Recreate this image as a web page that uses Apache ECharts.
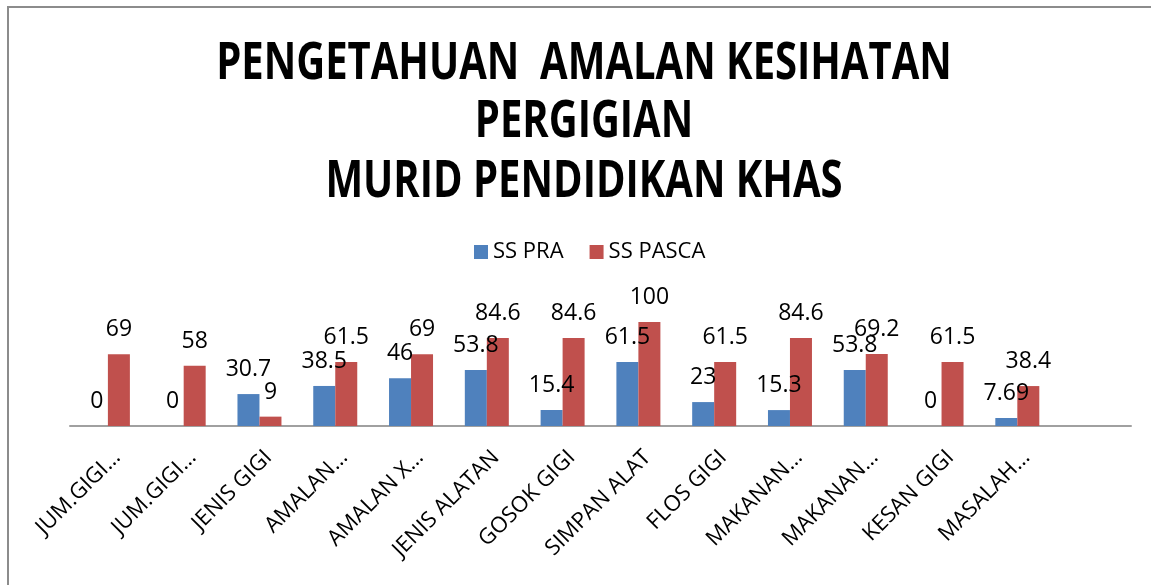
<!DOCTYPE html>
<html>
<head>
<meta charset="utf-8">
<script src="https://cdn.jsdelivr.net/npm/echarts@6/dist/echarts.min.js"></script>
<style>
    html, body { margin: 0; padding: 0; background: #fff; }
    #main { width: 1151px; height: 585px; }
</style>
</head>
<body>
<div id="main"></div>
<script>
// kategori (14 slot, yang terakhir kosong)
var categories = [
    'JUM.GIGI\u2026', 'JUM.GIGI\u2026', 'JENIS GIGI', 'AMALAN\u2026', 'AMALAN X\u2026',
    'JENIS ALATAN', 'GOSOK GIGI', 'SIMPAN ALAT', 'FLOS GIGI', 'MAKANAN\u2026',
    'MAKANAN\u2026', 'KESAN GIGI', 'MASALAH\u2026', ''
];
// nilai siri
var ssPra = [0, 0, 30.7, 38.5, 46, 53.8, 15.4, 61.5, 23, 15.3, 53.8, 0, 7.69, null];
var ssPasca = [69, 58, 9, 61.5, 69, 84.6, 84.6, 100, 61.5, 84.6, 69.2, 61.5, 38.4, null];
var seriesNames = ['SS PRA', 'SS PASCA'];
var titleLines = ['PENGETAHUAN  AMALAN KESIHATAN', 'PERGIGIAN', 'MURID PENDIDIKAN KHAS'];

var font = 'Open Sans';

// 实例化对象
var myChart = echarts.init(document.getElementById('main'));

// tajuk: teks tebal yang dipanjangkan sedikit secara menegak
var titleY = [64, 122, 182];
var titleGraphics = titleLines.map(function (t, i) {
    return {
        type: 'text',
        x: 584,
        y: titleY[i],
        scaleY: 1.3,
        silent: true,
        style: {
            text: t,
            font: 'bold 40px "Open Sans"',
            fill: '#000',
            textAlign: 'center',
            textVerticalAlign: 'middle'
        }
    };
});

var barLabel = {
    show: true,
    position: 'top',
    distance: 13,
    fontFamily: font,
    fontSize: 23,
    color: '#000'
};

var option = {
    animation: false,
    backgroundColor: '#fff',
    color: ['#4F81BD', '#C0504D'],
    legend: {
        left: 469,
        top: 236,
        itemWidth: 14,
        itemHeight: 14,
        itemGap: 26,
        icon: 'rect',
        textStyle: { fontFamily: font, fontSize: 22, color: '#000' },
        data: seriesNames
    },
    // grid 0: bar; grid 1: hanya label paksi (dianjak sedikit ke kanan)
    grid: [
        { left: 70, right: 20, top: 322, bottom: 159 },
        { left: 79, right: 11, top: 322, bottom: 159 }
    ],
    xAxis: [{
        type: 'category',
        gridIndex: 0,
        data: categories,
        axisLine: { lineStyle: { color: '#a0a0a0', width: 2 } },
        axisTick: { show: false },
        axisLabel: { show: false }
    }, {
        type: 'category',
        gridIndex: 1,
        data: categories,
        axisLine: { show: false },
        axisTick: { show: false },
        axisLabel: {
            rotate: 45,
            interval: 0,
            margin: 28,
            fontFamily: font,
            fontSize: 22,
            color: '#000'
        }
    }],
    yAxis: [
        { type: 'value', gridIndex: 0, min: 0, max: 100, show: false },
        { type: 'value', gridIndex: 1, min: 0, max: 100, show: false }
    ],
    series: [{
        name: seriesNames[0],
        type: 'bar',
        barWidth: 22,
        barGap: '0%',
        data: ssPra,
        label: barLabel
    }, {
        name: seriesNames[1],
        type: 'bar',
        barWidth: 22,
        data: ssPasca,
        label: barLabel
    }],
    // bingkai carta + tajuk
    graphic: [{
        type: 'rect',
        shape: { x: 8, y: 7, width: 1160, height: 600 },
        style: { fill: 'none', stroke: '#8c8c8c', lineWidth: 2 },
        silent: true
    }].concat(titleGraphics)
};

myChart.setOption(option);
</script>
</body>
</html>
